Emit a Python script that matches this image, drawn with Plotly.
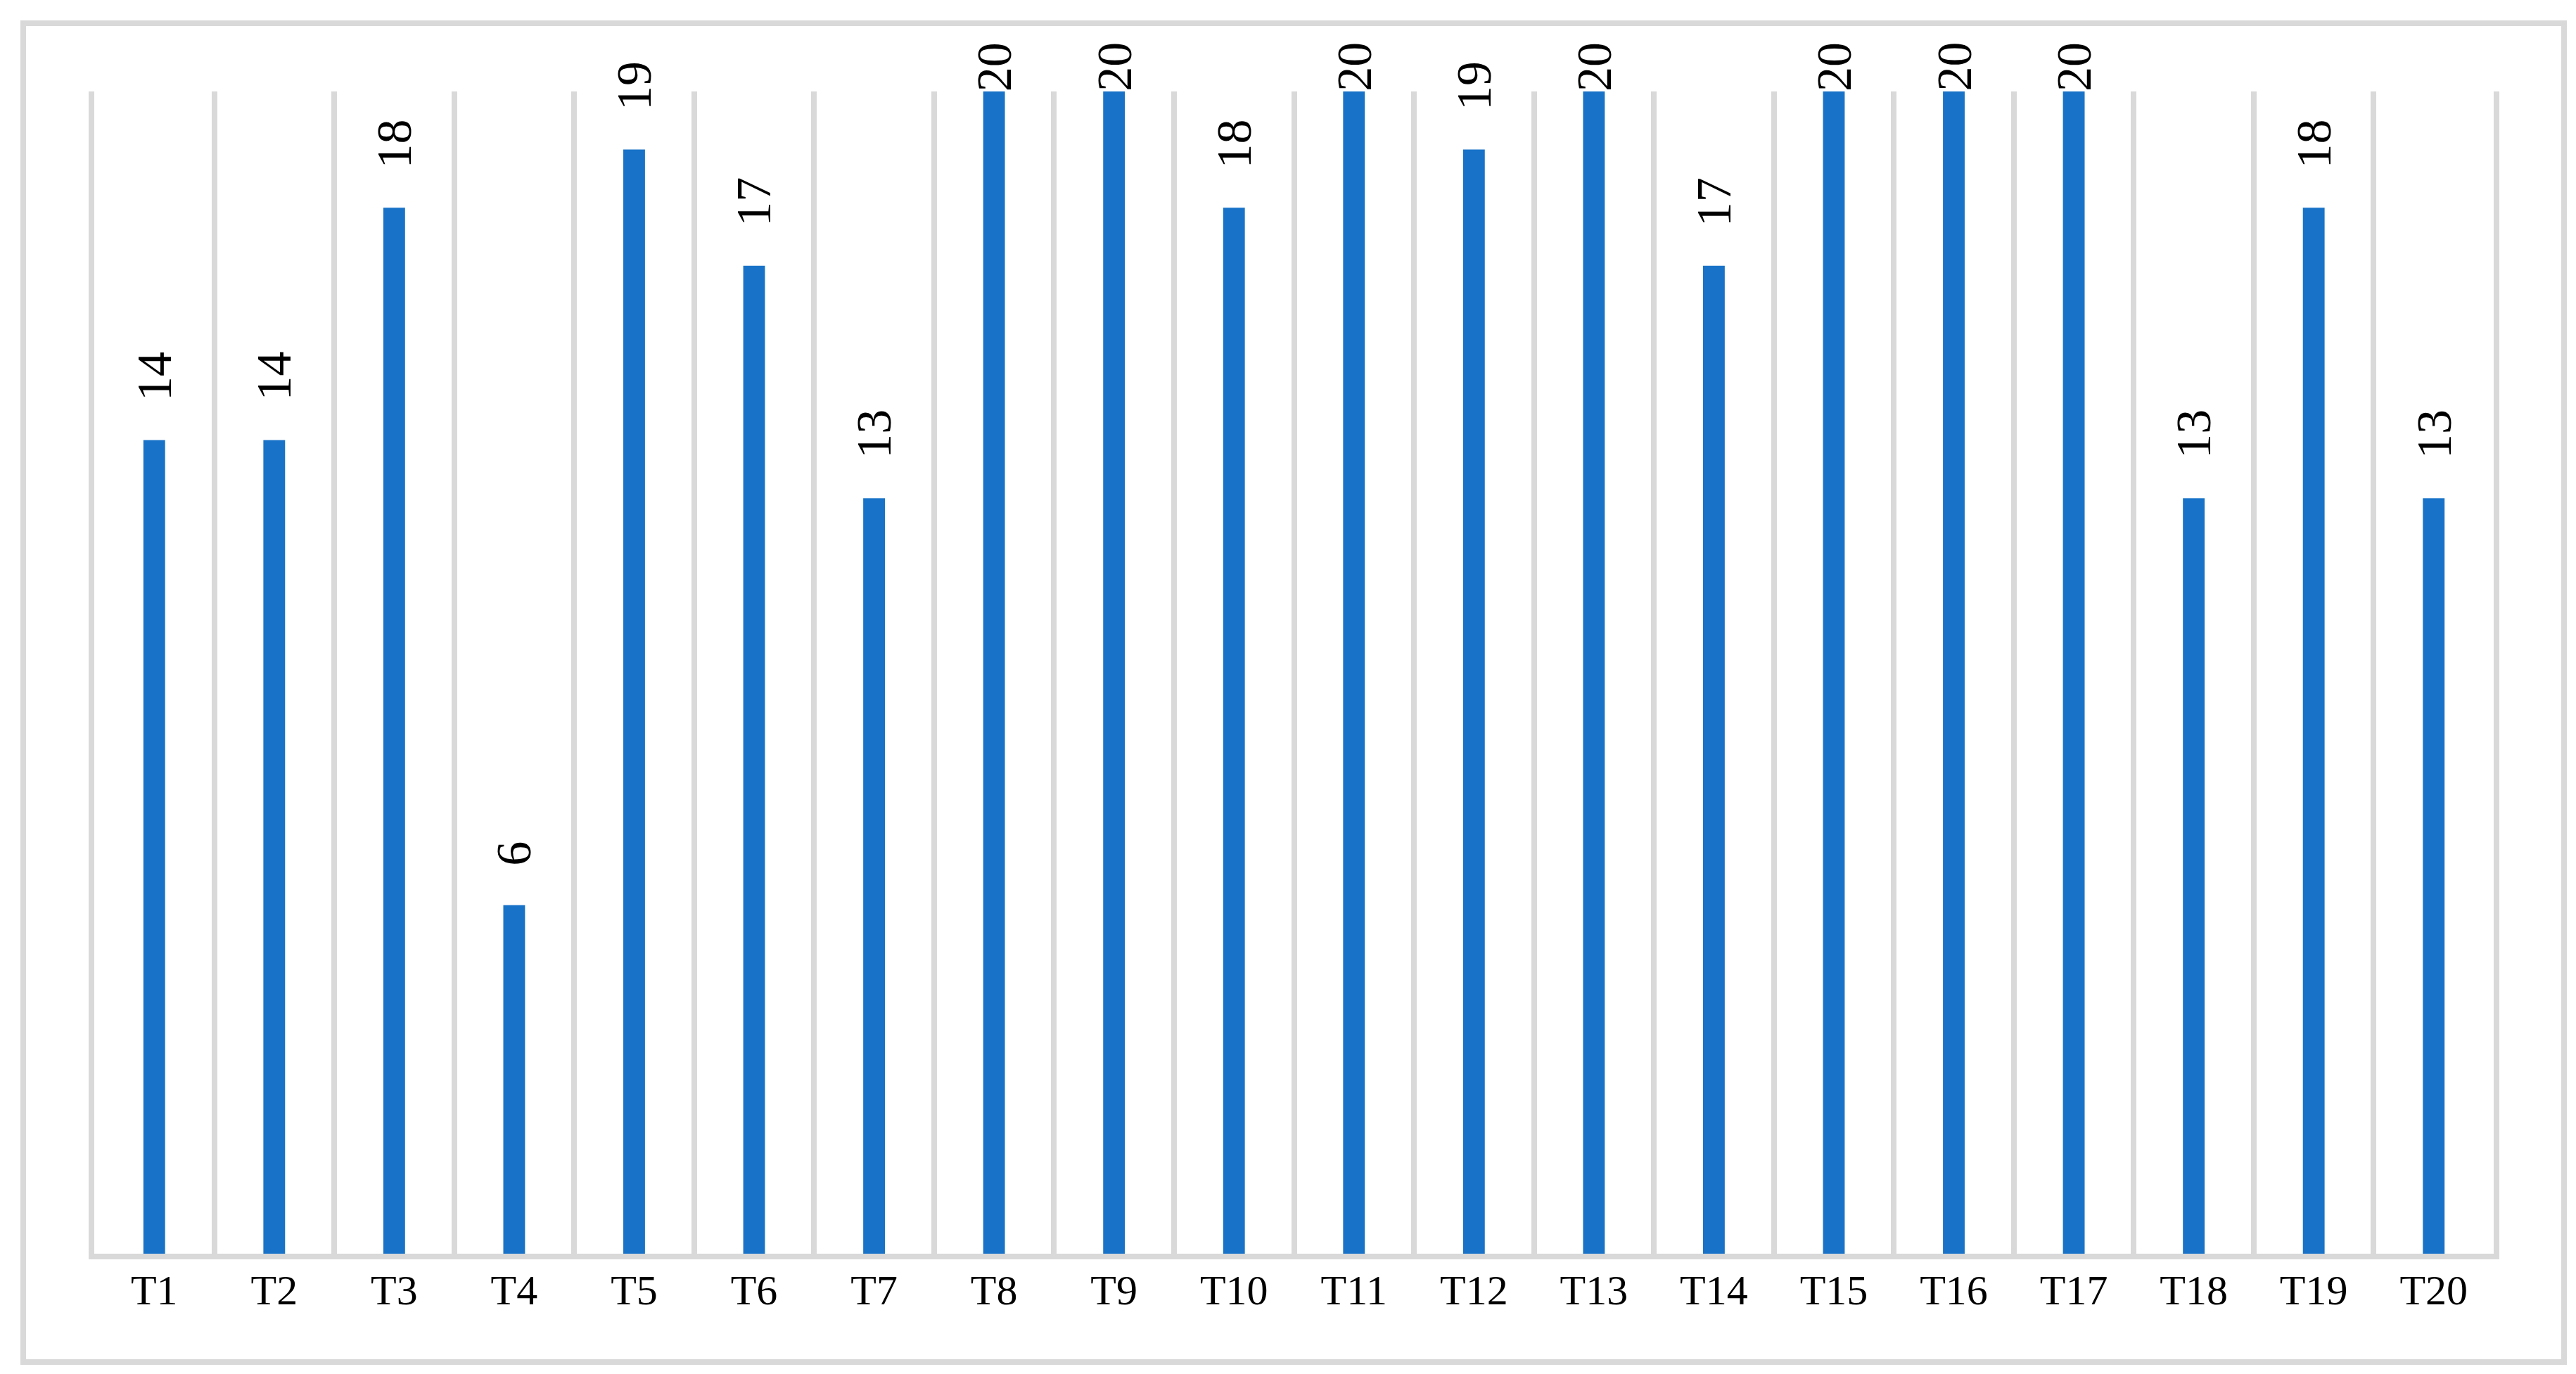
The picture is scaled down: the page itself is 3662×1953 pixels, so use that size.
import plotly.graph_objects as go

# data
tests = ["T1", "T2", "T3", "T4", "T5", "T6", "T7", "T8", "T9", "T10",
         "T11", "T12", "T13", "T14", "T15", "T16", "T17", "T18", "T19", "T20"]
scores = [14, 14, 18, 6, 19, 17, 13, 20, 20, 18,
          20, 19, 20, 17, 20, 20, 20, 13, 18, 13]
y_max = 20

# page / plot geometry in px
W, H = 3662, 1953
ML, MR, MT, MB = 126, 125, 122, 179
plot_w = W - ML - MR
plot_h = H - MT - MB

grey = "#D9D9D9"
blue = "#1873C8"
font = "Liberation Serif, Times New Roman, serif"

fig = go.Figure()
fig.add_trace(go.Bar(
    x=tests, y=scores,
    marker=dict(color=blue, line=dict(width=0)),
    hoverinfo="x+y",
))

# value labels, rotated, above each bar (pushed down when they would leave the chart)
label_gap = 54
label_len = 72
label_top_min = 52
px_per_unit = plot_h / y_max
for t, v in zip(tests, scores):
    bar_top = MT + (y_max - v) * px_per_unit
    shift = min(label_gap, bar_top - label_top_min - label_len)
    fig.add_annotation(
        x=t, y=v, text=str(v), textangle=-90,
        showarrow=False, xanchor="center", yanchor="bottom", yshift=shift,
        font=dict(family=font, size=70, color="black"),
    )

# outer chart border
def px_x(p):
    return (p - ML) / plot_w

def px_y(p):
    return (H - MB - p) / plot_h

fig.add_shape(
    type="rect", xref="paper", yref="paper",
    x0=px_x(25), x1=px_x(3637), y0=px_y(1928), y1=px_y(25),
    line=dict(color=grey, width=8), fillcolor="rgba(0,0,0,0)", layer="below",
)

fig.update_layout(
    width=W, height=H,
    margin=dict(l=ML, r=MR, t=MT, b=MB),
    plot_bgcolor="white", paper_bgcolor="white",
    bargap=0.819,
    showlegend=False,
    font=dict(family=font, color="black"),
)
fig.update_xaxes(
    type="category", tickson="boundaries",
    showgrid=True, gridcolor=grey, gridwidth=8,
    showline=True, linecolor=grey, linewidth=8,
    ticks="", ticklen=0,
    tickfont=dict(family=font, size=60, color="black"),
    ticklabelstandoff=-8,
)
# the y axis itself is hidden; only its lines stand in for the outer category gridlines
fig.update_yaxes(
    range=[0, y_max], showgrid=False, zeroline=False,
    showticklabels=False, ticks="",
    showline=True, mirror=True, linecolor=grey, linewidth=8,
)

fig.write_html("out.html")
